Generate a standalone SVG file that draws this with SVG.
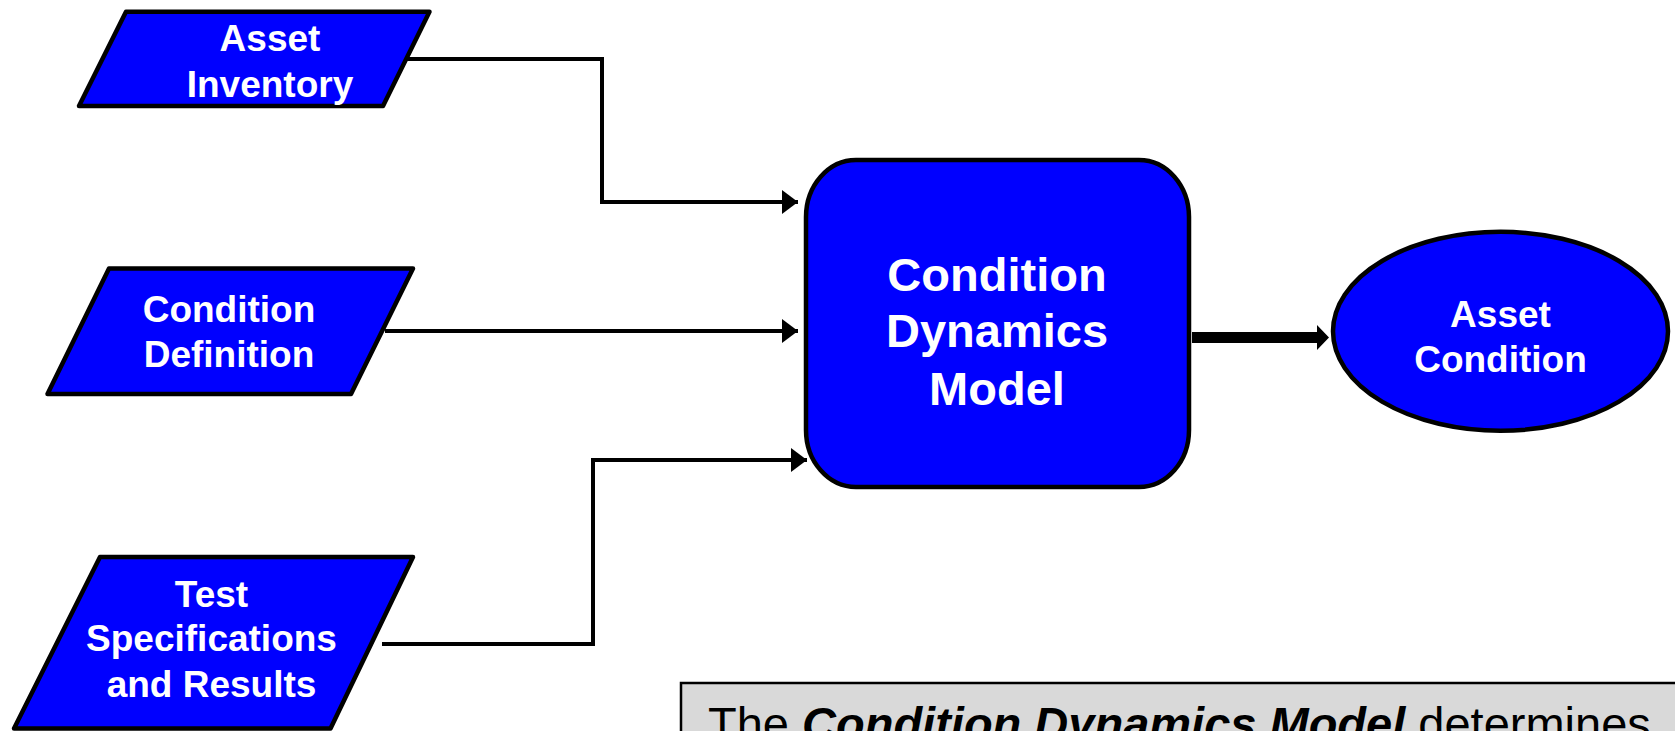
<svg xmlns="http://www.w3.org/2000/svg" width="1675" height="731" viewBox="0 0 1675 731">
  <style>
    .shape { fill: #0000ff; stroke: #000; stroke-width: 4.5; stroke-linejoin: round; }
    .lbl { fill: #fff; font-family: "Liberation Sans", Arial, sans-serif; font-weight: bold; text-anchor: middle; }
    .sm { font-size: 37px; }
    .lg { font-size: 47px; }
    .wire { fill: none; stroke: #000; stroke-width: 4; }
    .note { font-family: "Liberation Sans", Arial, sans-serif; font-size: 47px; fill: #000; }
  </style>
  <defs>
    <marker id="head" markerUnits="userSpaceOnUse" markerWidth="16" markerHeight="24" refX="16" refY="12" orient="auto">
      <path d="M0,0 L16,12 L0,24 Z" fill="#000"/>
    </marker>
  </defs>
  <rect width="1675" height="731" fill="#fff"/>

  <g id="connectors">
    <path class="wire" d="M407,59 H602 V202 H798" marker-end="url(#head)"/>
    <path class="wire" d="M385,331 H798" marker-end="url(#head)"/>
    <path class="wire" d="M382,644 H593 V460 H807" marker-end="url(#head)"/>
    <polygon points="1192,332 1317,332 1317,325 1329,337.5 1317,350 1317,343 1192,343" fill="#000"/>
  </g>

  <g id="asset-inventory">
    <polygon class="shape" points="126,11.8 429.5,11.8 383,106 79,106"/>
    <text class="lbl sm" x="270" y="50.5">Asset</text>
    <text class="lbl sm" x="270" y="96.5">Inventory</text>
  </g>

  <g id="condition-definition">
    <polygon class="shape" points="109,268.5 413,268.5 351,394 47.5,394"/>
    <text class="lbl sm" x="229" y="321.5">Condition</text>
    <text class="lbl sm" x="229" y="366.5">Definition</text>
  </g>

  <g id="test-specifications">
    <polygon class="shape" points="100,557 413,557 330.5,728.5 14,728.5"/>
    <text class="lbl sm" x="211.5" y="606.5">Test</text>
    <text class="lbl sm" x="211.5" y="651">Specifications</text>
    <text class="lbl sm" x="211.5" y="696.5">and Results</text>
  </g>

  <g id="condition-dynamics-model">
    <rect class="shape" x="806" y="160" width="383" height="327" rx="50" ry="57"/>
    <text class="lbl lg" x="997" y="290.5">Condition</text>
    <text class="lbl lg" x="997" y="347">Dynamics</text>
    <text class="lbl lg" x="997" y="405">Model</text>
  </g>

  <g id="asset-condition">
    <ellipse class="shape" cx="1500.5" cy="331.3" rx="167.5" ry="99.5"/>
    <text class="lbl sm" x="1500.5" y="327">Asset</text>
    <text class="lbl sm" x="1500.5" y="372">Condition</text>
  </g>

  <g id="note">
    <rect x="681" y="683" width="1100" height="100" fill="#d9d9d9" stroke="#000" stroke-width="2.5"/>
    <text class="note" x="708" y="740">The <tspan font-weight="bold" font-style="italic">Condition Dynamics Model</tspan> determines</text>
  </g>
</svg>
